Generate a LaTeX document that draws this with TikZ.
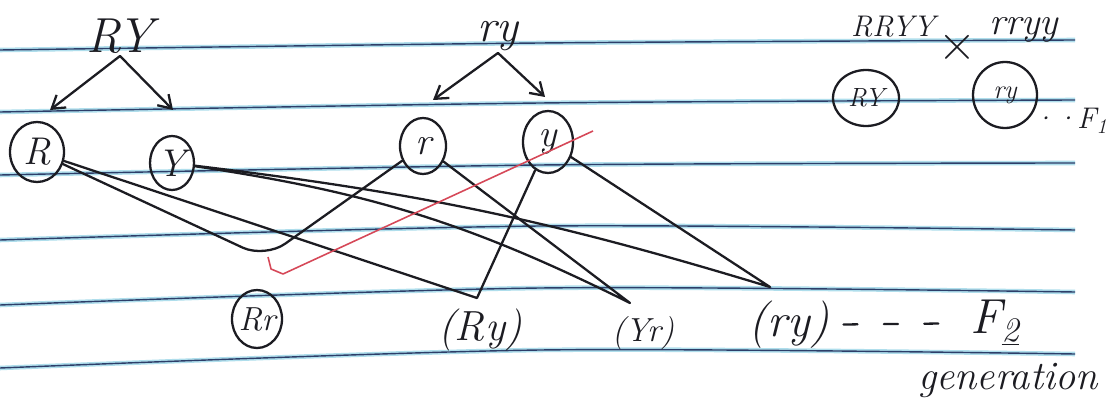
\documentclass[tikz,border=0pt]{standalone}
\usepackage{fontspec}
\usepackage{tikz}
\usetikzlibrary{arrows.meta,shapes.geometric}
\usepackage{xcolor}
\definecolor{ink}{RGB}{28,28,34}
\definecolor{ruleline}{RGB}{45,62,105}
\definecolor{rulehalo}{RGB}{175,222,236}
\definecolor{redink}{RGB}{214,72,88}

\begin{document}
\begin{tikzpicture}[>={Straight Barb[length=7pt,width=9pt]},x=0.02cm,y=-0.02cm,
  pen/.style={draw=ink,line width=1.3pt,line cap=round,line join=round},
  gam/.style={pen,ellipse,inner sep=-1pt,text=ink,minimum width=1cm,minimum height=1.2cm,font=\fontsize{22}{24}\selectfont\itshape},
  big/.style={inner sep=1pt,text=ink,font=\fontsize{28}{30}\selectfont\itshape},
  mid/.style={inner sep=1pt,text=ink,font=\fontsize{22}{24}\selectfont\itshape},
  small/.style={inner sep=1pt,text=ink,font=\fontsize{17}{19}\selectfont\itshape}]
\useasboundingbox (0,0) rectangle (1118,412);
\fill[white] (0,0) rectangle (1118,412);
% ruled page
\foreach \a/\b/\c in {50/43/40,112/103/100,175/165/163,240/226/230,305/288/292,368/350/354}{
  \draw[rulehalo,line width=2.6pt] plot[smooth] coordinates {(0,\a) (540,\b) (1075,\c)};
  \draw[ruleline,line width=0.8pt] plot[smooth] coordinates {(0,\a) (540,\b) (1075,\c)};
}
% parents and gametes
\node[big,anchor=south] (pRY) at (120,56) {RY};
\node[big,font=\fontsize{26}{28}\selectfont\itshape,anchor=south] (pry) at (498,53) {ry};
\coordinate (aR) at (50,110);
\coordinate (aY) at (173,110);
\coordinate (ar) at (433,100);
\coordinate (ay) at (545,97);
\draw[pen,->] (pRY.south) -- (aR);
\draw[pen,->] (pRY.south) -- (aY);
\draw[pen,->] (pry.south) -- (ar);
\draw[pen,->] (pry.south) -- (ay);
\node[gam,minimum width=1.08cm,minimum height=1.2cm] (R) at (37,152) {R};
\node[gam,minimum width=0.88cm,minimum height=1.08cm] (Y) at (172,163) {Y};
\node[gam,minimum width=0.92cm,minimum height=1.12cm] (r) at (423,146) {r};
\node[gam,minimum width=1cm,minimum height=1.24cm] (y) at (548,142) {y};
% cross, top right
\node[small] (cRRYY) at (893,27) {RRYY};
\node[small,font=\fontsize{30}{32}\selectfont] (cx) at (957,48) {×};
\node[mid] (crryy) at (1024,30) {rryy};
\node[gam,font=\fontsize{15}{17}\selectfont\itshape,minimum width=1.32cm,minimum height=1.12cm] (gRY) at (866,98) {RY};
\node[gam,font=\fontsize{15}{17}\selectfont\itshape,minimum width=1.28cm,minimum height=1.32cm] (gry) at (1005,95) {ry};
\node[small,inner sep=0pt] (F1) at (1070,121) {··F\textsubscript{1}};
% F2 offspring
\node[gam,font=\fontsize{19}{21}\selectfont\itshape,minimum width=1cm,minimum height=1.16cm] (oRr) at (257,319) {Rr};
\node[mid,font=\fontsize{24}{26}\selectfont\itshape] (oRy) at (480,330) {(Ry)};
\node[mid,font=\fontsize{19}{21}\selectfont\itshape] (oYr) at (643,333) {(Yr)};
\node[mid,font=\fontsize{27}{29}\selectfont\itshape] (ory) at (789,325) {(ry)};
\node[big] (F2) at (995,323) {F\textsubscript{\underline{2}}};
\node[mid,font=\fontsize{23}{25}\selectfont\itshape] (gen) at (1008,380) {generation};
\draw[pen,dash pattern=on 8pt off 15pt,shorten <=7pt,shorten >=12pt] (ory) -- (F2);
% crossing lines
\coordinate (vRr) at (265,258);
\coordinate (vRy) at (477,298);
\coordinate (vYr) at (630,303);
\coordinate (vry) at (770,287);
\draw[pen,rounded corners=14pt] (R) -- (vRr) -- (r);
\draw[pen] (R) -- (vRy) -- (y);
\draw[pen] (Y) to[bend left=9] (vYr) -- (r);
\draw[pen] (Y) to[bend left=5] (vry) -- (y);
\coordinate (redA) at (593,131);
\coordinate (redB) at (283,274);
\coordinate (redC) at (271,269);
\coordinate (redD) at (268,257);
\draw[redink,line width=0.9pt,line join=round] (redA) -- (redB) -- (redC) -- (redD);
\end{tikzpicture}
\end{document}
